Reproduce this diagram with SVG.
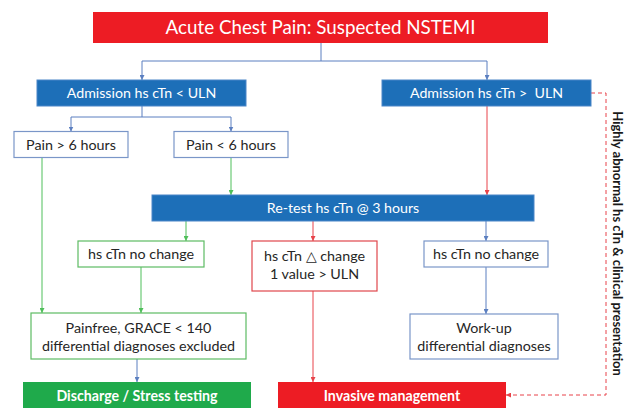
<svg xmlns="http://www.w3.org/2000/svg" width="629" height="408" viewBox="0 0 629 408">
<style>
text{font-family:Lato,"Liberation Sans",sans-serif;text-anchor:middle}
.t{font-size:14.3px;fill:#262626}
.w{font-size:14.2px;fill:#ffffff}
.b{font-size:14.2px;fill:#ffffff;font-weight:bold}
.red{fill:#ED1C24}
.blue{fill:#1D6FB8;stroke:#4A86C8;stroke-width:1}
.wb{fill:#fff;stroke:#7A96C8;stroke-width:1.2}
.wg{fill:#fff;stroke:#5DBB63;stroke-width:1.2}
.wr{fill:#fff;stroke:#E0474C;stroke-width:1.2}
.green{fill:#1FAA4B}
.cb{stroke:#5B7FC0;fill:none;stroke-width:1}
.cg{stroke:#4FBF5A;fill:none;stroke-width:1}
.cr{stroke:#E8434A;fill:none;stroke-width:1}
.cd{stroke:#E8434A;fill:none;stroke-width:1;stroke-dasharray:4 3}
</style>
<defs>
<marker id="ab" markerUnits="userSpaceOnUse" markerWidth="6" markerHeight="5" refX="5" refY="2.5" orient="auto"><path d="M0,0L5,2.5L0,5Z" fill="#5B7FC0"/></marker>
<marker id="ag" markerUnits="userSpaceOnUse" markerWidth="6" markerHeight="5" refX="5" refY="2.5" orient="auto"><path d="M0,0L5,2.5L0,5Z" fill="#4FBF5A"/></marker>
<marker id="ar" markerUnits="userSpaceOnUse" markerWidth="6" markerHeight="5" refX="5" refY="2.5" orient="auto"><path d="M0,0L5,2.5L0,5Z" fill="#E8434A"/></marker>
</defs>
<rect width="629" height="408" fill="#fff"/>
<g id="connectors">
<path class="cb" d="M321,43V61M142,61H487"/>
<path class="cb" d="M142,61V80" marker-end="url(#ab)"/>
<path class="cb" d="M487,61V80" marker-end="url(#ab)"/>
<path class="cb" d="M142,106V117M71,117H231"/>
<path class="cb" d="M71,117V131.5" marker-end="url(#ab)"/>
<path class="cb" d="M231,117V131.5" marker-end="url(#ab)"/>
<path class="cg" d="M42,157.5V313" marker-end="url(#ag)"/>
<path class="cg" d="M231,157.5V195" marker-end="url(#ag)"/>
<path class="cr" d="M487,106V195" marker-end="url(#ar)"/>
<path class="cg" d="M186,221V241" marker-end="url(#ag)"/>
<path class="cr" d="M313,221V241" marker-end="url(#ar)"/>
<path class="cb" d="M486,221V241" marker-end="url(#ab)"/>
<path class="cg" d="M141,267V313" marker-end="url(#ag)"/>
<path class="cr" d="M313,291V382" marker-end="url(#ar)"/>
<path class="cb" d="M486,267V314" marker-end="url(#ab)"/>
<path class="cb" d="M137,359V382" marker-end="url(#ab)"/>
<path class="cd" d="M591,93H606V395H506" marker-end="url(#ar)"/>
</g>
<g id="title"><rect class="red" x="93" y="12" width="455" height="31"/><text x="320.5" y="34.3" style="font-size:18.8px;fill:#fff">Acute Chest Pain: Suspected NSTEMI</text></g>
<g id="adm-low"><rect class="blue" x="37" y="80" width="209" height="26"/><text class="w" x="141.5" y="98">Admission hs cTn &lt; ULN</text></g>
<g id="adm-high"><rect class="blue" x="382" y="80" width="209" height="26"/><text class="w" x="486.5" y="98" xml:space="preserve">Admission hs cTn &gt;  ULN</text></g>
<g id="pain-gt6"><rect class="wb" x="14" y="131.5" width="114" height="26"/><text class="t" x="71" y="149.5">Pain &gt; 6 hours</text></g>
<g id="pain-lt6"><rect class="wb" x="174" y="131.5" width="114" height="26"/><text class="t" x="231" y="149.5">Pain &lt; 6 hours</text></g>
<g id="retest"><rect class="blue" x="152" y="195" width="382" height="26"/><text class="w" x="343" y="213">Re-test hs cTn @ 3 hours</text></g>
<g id="nochange-left"><rect class="wg" x="78" y="241" width="126" height="26"/><text class="t" x="141" y="259">hs cTn no change</text></g>
<g id="change"><rect class="wr" x="252" y="241" width="125" height="50"/><text class="t" x="314.5" y="260.5">hs cTn △ change</text><text class="t" x="314.5" y="278.5">1 value &gt; ULN</text></g>
<g id="nochange-right"><rect class="wb" x="424" y="241" width="124" height="26"/><text class="t" x="486" y="259">hs cTn no change</text></g>
<g id="painfree"><rect class="wg" x="31" y="313" width="215" height="46"/><text class="t" x="138.5" y="332.5">Painfree, GRACE &lt; 140</text><text class="t" x="138.5" y="350.5">differential diagnoses excluded</text></g>
<g id="workup"><rect class="wb" x="410" y="314" width="148" height="45"/><text class="t" x="484" y="333">Work-up</text><text class="t" x="484" y="351">differential diagnoses</text></g>
<g id="discharge"><rect class="green" x="23" y="382" width="228" height="30"/><text class="b" x="137" y="400.5">Discharge / Stress testing</text></g>
<g id="invasive"><rect class="red" x="278" y="382" width="228" height="30"/><text class="b" x="392" y="400.5">Invasive management</text></g>
<g id="side-label"><text transform="translate(612.5,243.5) rotate(90)" style="font-size:13px;font-weight:bold;fill:#1a1a1a">Highly abnormal hs cTn &amp; clinical presentation</text></g>
</svg>
